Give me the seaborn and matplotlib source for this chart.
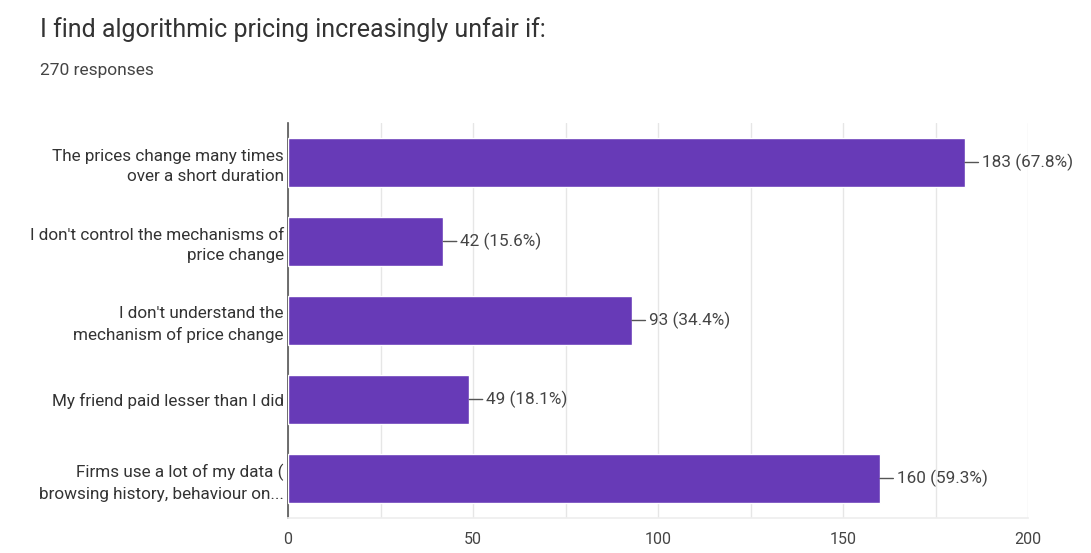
import matplotlib
matplotlib.use("Agg")
import matplotlib.pyplot as plt
import seaborn as sns
import pandas as pd
import numpy as np
from matplotlib.ticker import MultipleLocator

categories = [
    "The prices change many times\nover a short duration",
    "I don't control the mechanisms of\nprice change",
    "I don't understand the\nmechanism of price change",
    "My friend paid lesser than I did",
    "Firms use a lot of my data (\nbrowsing history, behaviour on...",
]
counts = [183, 42, 93, 49, 160]
percents = ["67.8%", "15.6%", "34.4%", "18.1%", "59.3%"]
xticks = [0, 50, 100, 150, 200]

sns.set_theme(style="white")
plt.rcParams['font.family'] = ['Roboto', 'DejaVu Sans']

df = pd.DataFrame({"cat": categories, "n": counts})

fig = plt.figure(figsize=(10.91, 5.53), dpi=100)
ax = fig.add_axes([288/1091, 1-518/553, (1028-288)/1091, (518-123)/553])

sns.barplot(data=df, x="n", y="cat", color="#673ab7", saturation=1, width=0.61, ax=ax, zorder=3)

ax.set_xlim(0, 200)
ax.set_ylim(4.5, -0.5)
ax.xaxis.set_minor_locator(MultipleLocator(25))
ax.set_xticks(xticks)
ax.grid(axis="x", which="both", color="#e6e6e6", linewidth=1, zorder=0)
ax.set_xlabel("")
ax.set_ylabel("")
for s in ["top", "right"]:
    ax.spines[s].set_visible(False)
ax.spines["bottom"].set_color("#eeeeee")
ax.spines["left"].set_color("#555555")
ax.spines["left"].set_linewidth(1.2)
ax.tick_params(axis="x", length=0, pad=10, labelsize=11.5, labelcolor="#444444")
ax.tick_params(axis="y", length=0, pad=3, labelsize=12.3, labelcolor="#333333")
for lbl in ax.get_yticklabels():
    lbl.set_linespacing(1.45)

for i, (n, p) in enumerate(zip(counts, percents)):
    ax.annotate(f"{n} ({p})", xy=(n, i), xytext=(n + 4.5, i), va="center", ha="left",
                fontsize=12.3, color="#444444",
                arrowprops=dict(arrowstyle="-", color="#555555", lw=1, shrinkA=0, shrinkB=0))

fig.text(40/1091, 1-30/553, "I find algorithmic pricing increasingly unfair if:",
         fontsize=18, color="#333333", va="center", ha="left")
fig.text(40/1091, 1-70/553, "270 responses", fontsize=12.5, color="#444444", va="center", ha="left")

fig.savefig("out.png", dpi=100)
